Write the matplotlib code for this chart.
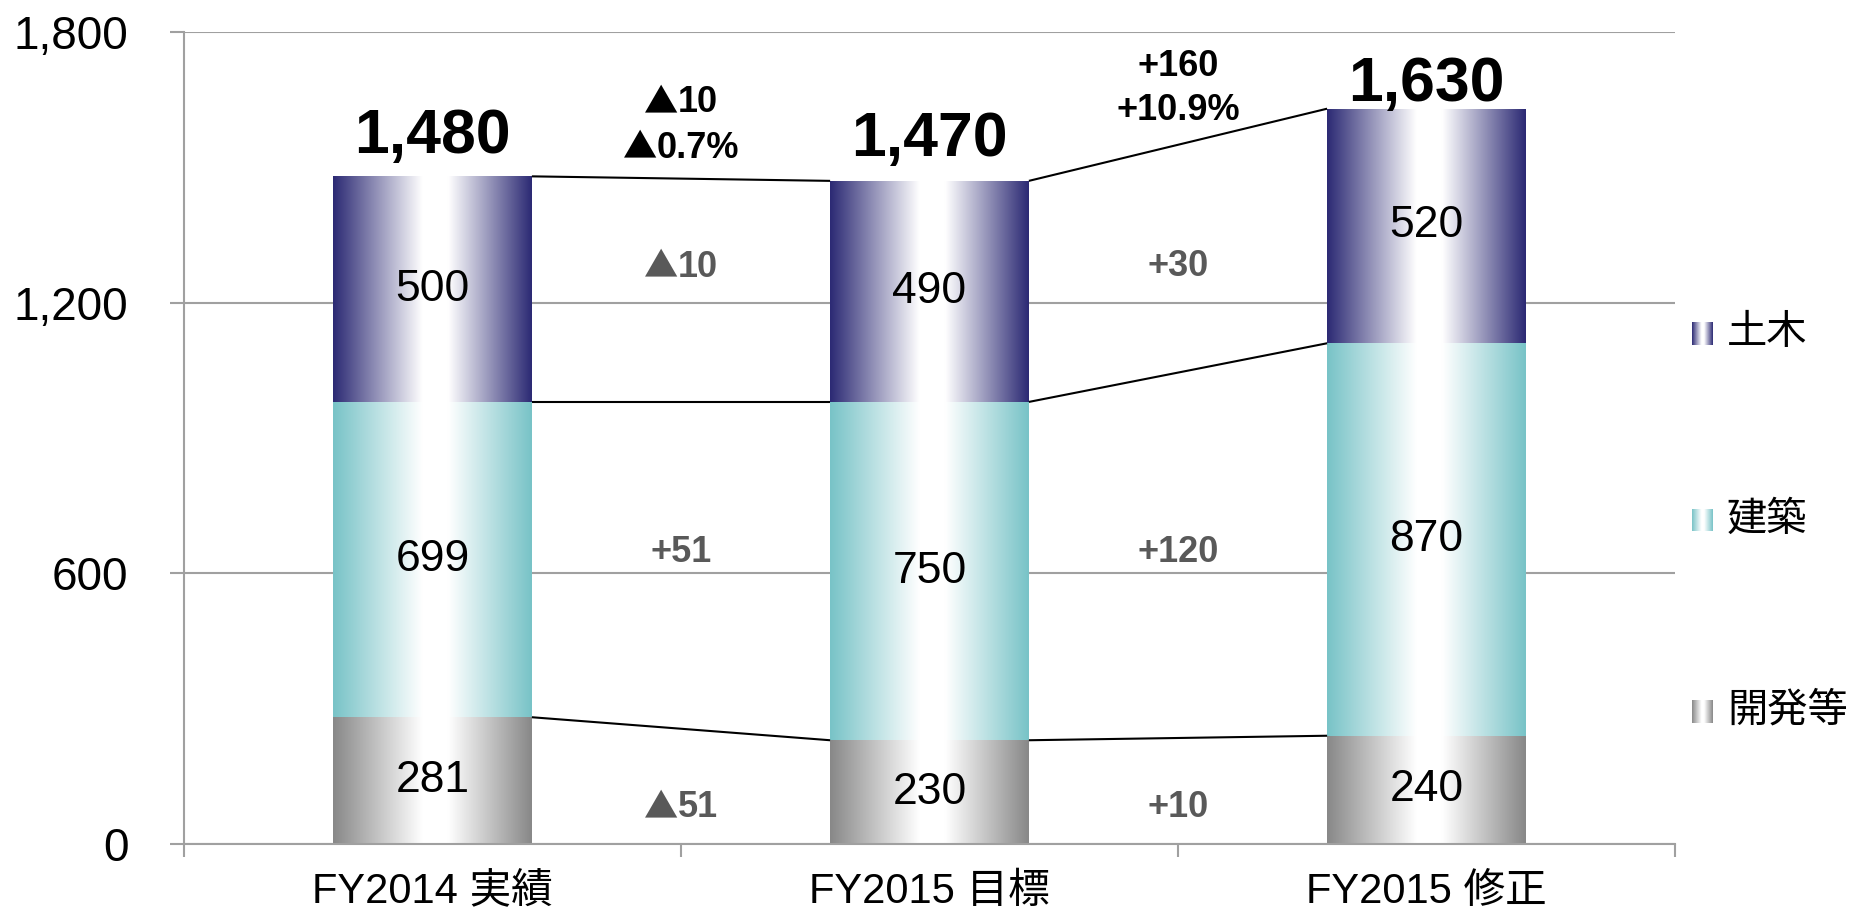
import numpy as np
import matplotlib
matplotlib.use('Agg')
import matplotlib.pyplot as plt
from matplotlib.colors import to_rgb
from matplotlib.offsetbox import TextArea, HPacker, VPacker, AnnotationBbox

# ---------------- data ----------------
categories = ['FY2014 実績', 'FY2015 目標', 'FY2015 修正']
series_names = ['開発等', '建築', '土木']
kaihatsu = [281, 230, 240]
kenchiku = [699, 750, 870]
doboku = [500, 490, 520]
yticks = [0, 600, 1200, 1800]

# ---------------- style ----------------
LAT = ['Liberation Sans', 'Noto Sans CJK JP', 'DejaVu Sans']
CJK = ['Noto Sans CJK JP', 'DejaVu Sans']
plt.rcParams['font.family'] = LAT
colors = ['#888888', '#78C3C7', '#2C2A74']
grid_col = '#A0A0A0'
delta_col = '#595959'
bar_w = 0.4
delta_label_y = [82, 647, 1280]          # vertical placement of the per-series change labels
total_delta_y = [1594, 1675]             # vertical placement of the total change labels
total_gap_pt = [16.5, 18, 5.8]           # gap between bar top and total label baseline

W, H = 1852, 918
fig = plt.figure(figsize=(W / 100, H / 100), dpi=100)
ax = fig.add_axes([184 / W, 1 - 844 / H, (1675 - 184) / W, (844 - 32) / H])


def gradient_img(color, n=256):
    c = np.array(to_rgb(color))
    t = np.linspace(0, 1, n)
    w = np.where(t < 0.45, t / 0.45, np.where(t > 0.58, (1 - t) / 0.42, 1.0))
    img = c[None, :] * (1 - w[:, None]) + w[:, None]
    return img[None, :, :]


def line_box(s, size, color):
    parts = []
    if s.startswith('▲'):
        parts.append(TextArea('▲', textprops=dict(fontsize=size * 0.95, fontweight='bold',
                                                  color=color, family=CJK)))
        s = s[1:]
    parts.append(TextArea(s, textprops=dict(fontsize=size, fontweight='bold',
                                            color=color, family=LAT)))
    return HPacker(children=parts, sep=0, pad=0, align='baseline')


def place_label(lines, xy, size, color):
    boxes = [line_box(s, size, color) for s in lines]
    box = boxes[0] if len(boxes) == 1 else VPacker(children=boxes, sep=7, pad=0, align='center')
    ab = AnnotationBbox(box, xy, frameon=False, box_alignment=(0.5, 0.5), pad=0,
                        zorder=4, annotation_clip=False)
    ax.add_artist(ab)


x = np.arange(len(categories))
series = [kaihatsu, kenchiku, doboku]
bottom = np.zeros(len(categories))
levels = []
for vals, col in zip(series, colors):
    bars = ax.bar(x, vals, width=bar_w, bottom=bottom, facecolor='none',
                  edgecolor='none', zorder=2)
    for b in bars:
        x0, y0 = b.get_x(), b.get_y()
        im = ax.imshow(gradient_img(col),
                       extent=[x0, x0 + b.get_width(), y0, y0 + b.get_height()],
                       aspect='auto', zorder=2, interpolation='bilinear')
        im.set_clip_path(b)
        ax.text(x0 + b.get_width() / 2, y0 + b.get_height() / 2,
                f'{int(round(b.get_height()))}', ha='center', va='center',
                fontsize=32, color='black', zorder=4)
    bottom = bottom + np.array(vals)
    levels.append(bottom.copy())

# connecting lines
for lvl in levels:
    for i in range(len(x) - 1):
        ax.plot([x[i] + bar_w / 2, x[i + 1] - bar_w / 2], [lvl[i], lvl[i + 1]],
                color='black', lw=1.5, zorder=3, solid_capstyle='butt')


def fmt(d):
    return f'▲{abs(d)}' if d < 0 else f'+{d}'


# per-series change labels
for k, vals in enumerate(series):
    for i in range(len(x) - 1):
        d = vals[i + 1] - vals[i]
        place_label([fmt(d)], (x[i] + 0.5, delta_label_y[k]), 26, delta_col)

# totals
totals = levels[-1]
for i, tot in enumerate(totals):
    ax.annotate(f'{int(tot):,}', xy=(x[i], tot), xytext=(0, total_gap_pt[i]),
                textcoords='offset points', ha='center', va='baseline',
                fontsize=45, fontweight='bold', color='black', zorder=4,
                annotation_clip=False)

for i in range(len(x) - 1):
    d = int(totals[i + 1] - totals[i])
    pct = d / totals[i] * 100
    sign = '▲' if d < 0 else '+'
    place_label([fmt(d), f'{sign}{abs(pct):.1f}%'], (x[i] + 0.5, total_delta_y[i]),
                26, 'black')

# axes styling
ax.set_xlim(-0.5, len(x) - 0.5)
ax.set_ylim(yticks[0], yticks[-1])
ax.set_yticks(yticks)
ax.set_yticklabels([f'{v:,}' for v in yticks], fontsize=33)
ax.set_xticks(x)
ax.set_xticklabels(categories, fontsize=30)
ax.set_xticks(np.arange(-0.5, len(x)), minor=True)
ax.yaxis.grid(True, color=grid_col, lw=1.5)
ax.set_axisbelow(True)
for s in ['top', 'right']:
    ax.spines[s].set_visible(False)
for s in ['left', 'bottom']:
    ax.spines[s].set_color(grid_col)
    ax.spines[s].set_linewidth(1.5)
ax.tick_params(axis='y', length=10, width=1.5, color=grid_col, pad=30)
ax.tick_params(axis='x', which='major', length=0, pad=20)
ax.tick_params(axis='x', which='minor', length=9.4, width=1.5, color=grid_col)

# legend (manual, gradient markers)
legend_y = [711, 520, 333]
for name, col, yc in zip(series_names, colors, legend_y):
    lax = fig.add_axes([1692 / W, 1 - (yc + 11.5) / H, 21 / W, 23 / H])
    lax.imshow(gradient_img(col), aspect='auto', interpolation='bilinear')
    lax.axis('off')
    fig.text(1727 / W, 1 - yc / H, name, ha='left', va='center', fontsize=29)

fig.savefig('out.png', dpi=100)
